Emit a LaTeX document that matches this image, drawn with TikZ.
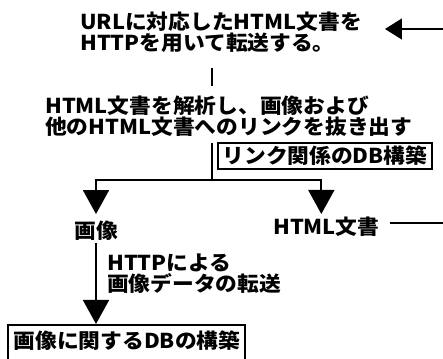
\documentclass[tikz,border=0pt]{standalone}
\usepackage{fontspec}
\newfontfamily\jp[FakeStretch=1.06]{Noto Sans CJK JP}
\usetikzlibrary{arrows.meta}
\begin{document}
\begin{tikzpicture}[x=1pt,y=-1pt,
  txt/.style={font=\jp\bfseries\fontsize{20.5}{18}\selectfont, align=left, inner sep=0pt},
  ln/.style={line width=1.7pt},
  bigtip/.style={-{Triangle[length=24pt,width=26pt]}},
  toptip/.style={-{Triangle[length=17pt,width=21pt]}},
  boxed/.style={draw, line width=1.4pt}]
\useasboundingbox (0,0) rectangle (443,358);
\clip (0,0) rectangle (443,358);
\fill[white] (0,0) rectangle (443,358);

\node[txt, anchor=north west] (t1) at (80,12) {URLに対応したHTML文書を\\HTTPを用いて転送する。};
\node[txt, anchor=north west] (t2) at (45,96) {HTML文書を解析し、画像および\\他のHTML文書へのリンクを抜き出す};
\node[txt, boxed, minimum width=214pt, minimum height=26pt] (db1) at (325,156) {リンク関係のDB構築};
\node[txt] (img) at (96,231) {画像};
\node[txt, anchor=west] (html) at (273,227) {HTML文書};
\node[txt, anchor=north west] (lbl) at (107,254) {HTTPによる\\画像データの転送};
\node[txt] (db2) at (127,341) {画像に関するDBの構築};
\draw[boxed] (8,380) -- (8,325) -- (245,325) -- (245,380);

\coordinate (split) at (212,180);
\coordinate (c1) at (447,223);
\coordinate (c2) at (447,29);

\draw[ln, shorten <=15pt, shorten >=10pt] (t1.south -| split) -- (t2.north -| split);
\draw[ln, shorten <=6pt] (t2.south -| split) -- (split);
\draw[ln, bigtip, shorten >=7pt] (split) -| (img.north);
\draw[ln, bigtip, shorten >=3pt] (split) -| ([xshift=-5pt]html.north);
\draw[ln, bigtip, shorten >=7pt] ([yshift=-2pt]img.south) -- (img.south |- db2.north);
\draw[line width=1.4pt, toptip, shorten <=10pt, shorten >=23pt]
  (html.east |- c1) -- (c1) -- (c2) -- (t1.east |- c2);
\end{tikzpicture}
\end{document}
